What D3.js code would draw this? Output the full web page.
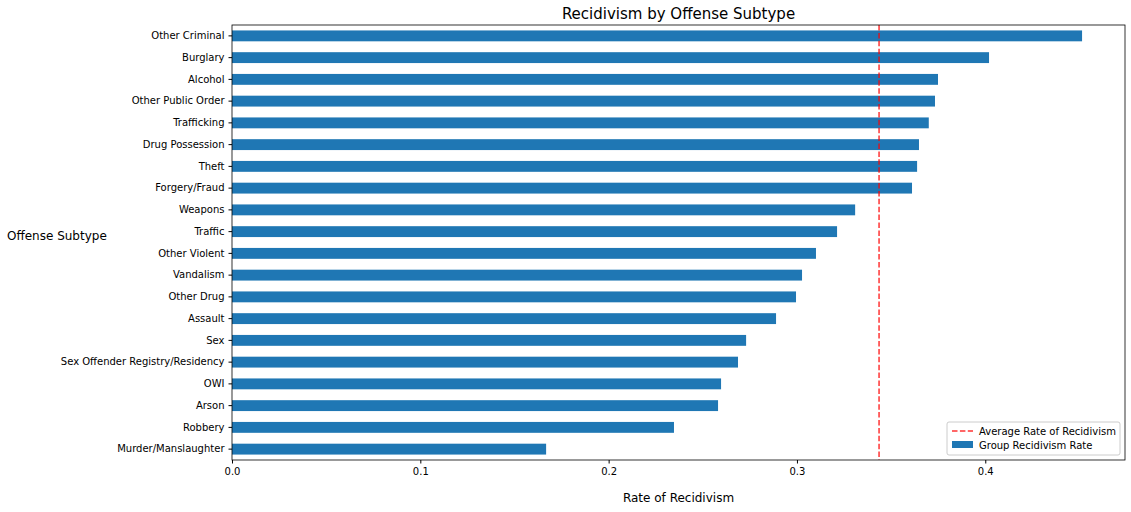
<!DOCTYPE html>
<html>
<head>
<meta charset="utf-8">
<script src="https://cdn.jsdelivr.net/npm/d3@7"></script>
<style>
  body { margin: 0; background: #fff; }
  text { font-family: "DejaVu Sans", sans-serif; }
</style>
</head>
<body>
<svg id="chart" width="1131" height="512"></svg>
<script>
// top to bottom
const subtypes = ["Other Criminal", "Burglary", "Alcohol", "Other Public Order", "Trafficking",
  "Drug Possession", "Theft", "Forgery/Fraud", "Weapons", "Traffic", "Other Violent", "Vandalism",
  "Other Drug", "Assault", "Sex", "Sex Offender Registry/Residency", "OWI", "Arson", "Robbery",
  "Murder/Manslaughter"];
const rates = [0.4514, 0.402, 0.3749, 0.3733, 0.370, 0.3648, 0.3638, 0.3611, 0.3309, 0.3213,
  0.3101, 0.3027, 0.2995, 0.2889, 0.273, 0.2687, 0.2597, 0.2581, 0.2347, 0.1668];
const avgRate = 0.3436;
const xTicks = [0, 0.1, 0.2, 0.3, 0.4];

const margin = { top: 25, right: 6, bottom: 52, left: 232 };
const svg = d3.select("#chart");
const w = 1131 - margin.left - margin.right;
const h = 512 - margin.top - margin.bottom;
const g = svg.append("g").attr("transform", `translate(${margin.left},${margin.top})`);

const x = d3.scaleLinear().domain([0, 0.4742]).range([0, w]);
const y = d3.scaleBand().domain(subtypes).range([0, h]).padding(0.5).paddingOuter(0.25);

g.selectAll("rect.bar").data(subtypes).join("rect")
  .attr("class", "bar")
  .attr("x", 0)
  .attr("y", d => y(d))
  .attr("width", (d, i) => x(rates[i]))
  .attr("height", y.bandwidth())
  .attr("fill", "#1f77b4");

g.append("line")
  .attr("x1", x(avgRate)).attr("x2", x(avgRate))
  .attr("y1", 0).attr("y2", h)
  .attr("stroke", "red").attr("stroke-opacity", 0.8)
  .attr("stroke-width", 1.5).attr("stroke-dasharray", "5.5,2.4");

const xAxis = g.append("g").attr("transform", `translate(0,${h})`)
  .call(d3.axisBottom(x).tickValues(xTicks).tickFormat(d => d === 0 ? "0.0" : d3.format(".1f")(d)).tickSize(3.5).tickPadding(4));
const yAxis = g.append("g").call(d3.axisLeft(y).tickSize(3.5).tickPadding(4));
[xAxis, yAxis].forEach(a => {
  a.select(".domain").remove();
  a.selectAll("text").attr("font-size", 10).attr("fill", "#000").attr("font-family", "DejaVu Sans");
  a.selectAll("line").attr("stroke", "#000");
});

g.append("rect").attr("width", w).attr("height", h)
  .attr("fill", "none").attr("stroke", "#000").attr("stroke-width", 0.8);

svg.append("text").attr("x", margin.left + w / 2).attr("y", 19)
  .attr("text-anchor", "middle").attr("font-size", 15).text("Recidivism by Offense Subtype");
svg.append("text").attr("x", margin.left + w / 2).attr("y", 502)
  .attr("text-anchor", "middle").attr("font-size", 12).text("Rate of Recidivism");
svg.append("text").attr("x", 7).attr("y", 240)
  .attr("font-size", 12).text("Offense Subtype");

// legend
const lg = svg.append("g").attr("transform", "translate(947,422)");
lg.append("rect").attr("width", 173).attr("height", 33).attr("rx", 2)
  .attr("fill", "#fff").attr("fill-opacity", 0.8).attr("stroke", "#ccc");
lg.append("line").attr("x1", 5).attr("x2", 26).attr("y1", 9).attr("y2", 9)
  .attr("stroke", "red").attr("stroke-opacity", 0.8).attr("stroke-width", 1.5).attr("stroke-dasharray", "5.5,2.4");
lg.append("text").attr("x", 32).attr("y", 12.5).attr("font-size", 10).text("Average Rate of Recidivism");
lg.append("rect").attr("x", 5).attr("y", 19).attr("width", 21).attr("height", 7).attr("fill", "#1f77b4");
lg.append("text").attr("x", 32).attr("y", 26.5).attr("font-size", 10).text("Group Recidivism Rate");
</script>
</body>
</html>
